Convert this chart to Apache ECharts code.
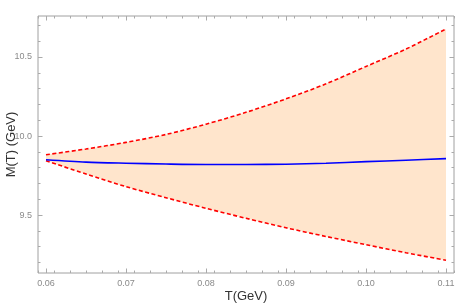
<!DOCTYPE html>
<html><head><meta charset="utf-8">
<script src="https://cdn.jsdelivr.net/npm/echarts@6/dist/echarts.min.js"></script>
<style>html,body{margin:0;padding:0;background:#fff}#c{width:471px;height:305px}</style>
</head><body><div id="c"></div>
<script>
const T = [0.060, 0.065, 0.070, 0.075, 0.080, 0.085, 0.090, 0.095, 0.100, 0.105, 0.110];
const upper = [9.882, 9.918, 9.960, 10.010, 10.075, 10.150, 10.235, 10.330, 10.440, 10.550, 10.677];
const lower = [9.844, 9.760, 9.680, 9.610, 9.543, 9.480, 9.420, 9.365, 9.313, 9.262, 9.215];
const central = [9.850, 9.835, 9.828, 9.823, 9.820, 9.820, 9.822, 9.828, 9.838, 9.847, 9.857];
const xTicks = [0.06, 0.07, 0.08, 0.09, 0.10, 0.11];
const yTicks = [9.5, 10.0, 10.5];
const xLabels = ['0.06','0.07','0.08','0.09','0.10','0.11'];
const yLabels = ['9.5','10.0','10.5'];
const xMinor = []; for (let i = 0; i <= 26; i++) xMinor.push(+(0.059 + i * 0.002).toFixed(3));
const yMinor = []; for (let i = 0; i <= 16; i++) yMinor.push(+(9.2 + i * 0.1).toFixed(1));

const XMIN = 0.059, XMAX = 0.111, YMIN = 9.134, YMAX = 10.759;
const tickColor = '#aaaaaa';
const labelStyle = {color:'#8a8a8a', fontSize:9, fontFamily:'Liberation Sans, Arial, sans-serif'};

function xAx(pos, values, len, withLabel, extra) {
  return Object.assign({
    type:'value', min:XMIN, max:XMAX, position:pos,
    axisLine:{show:false}, splitLine:{show:false},
    axisTick:{show:true, inside:true, length:len, customValues:values, lineStyle:{color:tickColor, width:1}},
    axisLabel: withLabel ? Object.assign({show:true, margin:6, customValues:xTicks,
      formatter: v => { const i = xTicks.findIndex(t => Math.abs(t - v) < 1e-9); return i >= 0 ? xLabels[i] : ''; }}, labelStyle) : {show:false}
  }, extra || {});
}
function yAx(pos, values, len, withLabel, extra) {
  return Object.assign({
    type:'value', min:YMIN, max:YMAX, position:pos,
    axisLine:{show:false}, splitLine:{show:false},
    axisTick:{show:true, inside:true, length:len, customValues:values, lineStyle:{color:tickColor, width:1}},
    axisLabel: withLabel ? Object.assign({show:true, margin:6, customValues:yTicks,
      formatter: v => { const i = yTicks.findIndex(t => Math.abs(t - v) < 1e-9); return i >= 0 ? yLabels[i] : ''; }}, labelStyle) : {show:false}
  }, extra || {});
}

const nameStyle = {color:'#333', fontSize:13, fontFamily:'Liberation Sans, Arial, sans-serif'};
const chart = echarts.init(document.getElementById('c'), null, {renderer:'canvas'});
chart.setOption({
  animation:false,
  grid:{left:38, right:17, top:16, bottom:32, outerBoundsMode:'none', containLabel:false,
        show:true, borderColor:'#a0a0a0', borderWidth:1, backgroundColor:'transparent'},
  xAxis:[
    xAx('bottom', xTicks, 4.5, true, {name:'T(GeV)', nameLocation:'middle', nameGap:17, nameMoveOverlap:false, nameTextStyle:nameStyle}),
    xAx('bottom', xMinor, 2.5, false),
    xAx('top', xTicks, 4.5, false),
    xAx('top', xMinor, 2.5, false)
  ],
  yAxis:[
    yAx('left', yTicks, 4.5, true, {name:'M(T) (GeV)', nameLocation:'middle', nameGap:20, nameMoveOverlap:false, nameTextStyle:nameStyle}),
    yAx('left', yMinor, 2.5, false),
    yAx('right', yTicks, 4.5, false),
    yAx('right', yMinor, 2.5, false)
  ],
  series:[
    {type:'line', stack:'band', data:T.map((t,i)=>[lower[i], t]), encode:{x:1, y:0}, symbol:'none', smooth:0.3,
     lineStyle:{opacity:0}, silent:true, z:1},
    {type:'line', stack:'band', data:T.map((t,i)=>[upper[i]-lower[i], t]), encode:{x:1, y:0}, symbol:'none', smooth:0.3,
     lineStyle:{opacity:0}, areaStyle:{color:'#ffe5cc', opacity:1}, silent:true, z:1},
    {type:'line', data:T.map((t,i)=>[t, upper[i]]), symbol:'none', smooth:0.3,
     lineStyle:{color:'#ff0000', width:1.6, type:[4,2.5]}, z:3},
    {type:'line', data:T.map((t,i)=>[t, lower[i]]), symbol:'none', smooth:0.3,
     lineStyle:{color:'#ff0000', width:1.6, type:[4,2.5]}, z:3},
    {type:'line', data:T.map((t,i)=>[t, central[i]]), symbol:'none', smooth:0.3,
     lineStyle:{color:'#0000ff', width:1.6}, z:4}
  ]
});
</script></body></html>
